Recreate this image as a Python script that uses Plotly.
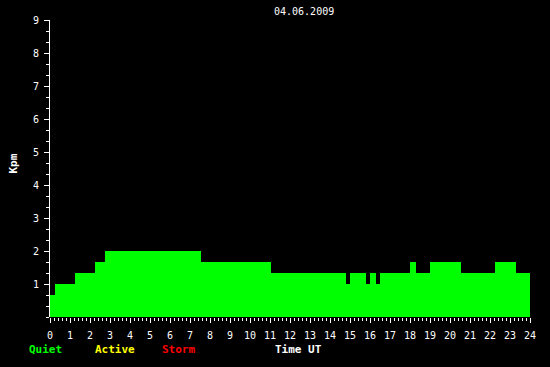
import plotly.graph_objects as go

# Step start times (hours UT) and Kpm values for each step
step_times = [0, 0.25, 1.25, 2.25, 2.75, 7.55, 11.05, 14.8, 15.0, 15.8, 16.0, 16.3, 16.5,
              18.0, 18.3, 19.0, 20.55, 22.25, 23.3, 24.0]
kpm_values = [0.667, 1.0, 1.333, 1.667, 2.0, 1.667, 1.333, 1.0, 1.333, 1.0, 1.333, 1.0, 1.333,
              1.667, 1.333, 1.667, 1.333, 1.667, 1.333, 1.333]

x_ticks = list(range(0, 25))
y_ticks = list(range(0, 10))
date_label = "04.06.2009"
legend_labels = ["Quiet", "Active", "Storm"]
legend_colors = ["#00FF00", "#FFFF00", "#FF0000"]

W, H = 550, 367
L, R, T, B = 50, 20, 20, 50
pw, ph = W - L - R, H - T - B

def px_x(p):
    return (p - L) / pw

def px_y(p):
    return (H - B - p) / ph

fig = go.Figure()
fig.add_trace(go.Scatter(
    x=step_times, y=kpm_values, mode="lines", line=dict(shape="hv", width=0, color="#00FF00"),
    fill="tozeroy", fillcolor="#00FF00", hoverinfo="skip", showlegend=False))

mono = "DejaVu Sans Mono"
fig.update_layout(
    width=W, height=H, margin=dict(l=L, r=R, t=T, b=B),
    paper_bgcolor="black", plot_bgcolor="black", showlegend=False,
    font=dict(family=mono, color="white", size=10),
    xaxis=dict(range=[0, 24], tickvals=x_ticks, ticktext=[str(v) for v in x_ticks],
               showgrid=False, zeroline=False, showline=False,
               ticks="outside", ticklen=5, tickcolor="white", tickwidth=1,
               minor=dict(dtick=0.2, ticks="outside", ticklen=3, tickcolor="white", tickwidth=1, showgrid=False),
               tickfont=dict(family=mono, size=10, color="white"), ticklabelstandoff=4),
    yaxis=dict(range=[0, 9], tickvals=y_ticks[1:], ticktext=[str(v) for v in y_ticks[1:]],
               showgrid=False, zeroline=False, showline=True, linecolor="white", linewidth=1,
               layer="below traces",
               ticks="outside", ticklen=5, tickcolor="white", tickwidth=1,
               minor=dict(dtick=1/3, tick0=0, ticks="outside", ticklen=3, tickcolor="white", tickwidth=1, showgrid=False),
               tickfont=dict(family=mono, size=10, color="white"), ticklabelstandoff=3),
)

ann = []
ann.append(dict(text=date_label, x=px_x(303.5), y=px_y(12), xref="paper", yref="paper",
                showarrow=False, font=dict(family=mono, size=10, color="white"),
                xanchor="center", yanchor="middle"))
ann.append(dict(text="<b>Kpm</b>", x=px_x(12.5), y=px_y(164), xref="paper", yref="paper",
                showarrow=False, textangle=-90, font=dict(family=mono, size=11, color="white"),
                xanchor="center", yanchor="middle"))
for lab, col, cx in zip(legend_labels, legend_colors, [45, 114.5, 178]):
    ann.append(dict(text=f"<b>{lab}</b>", x=px_x(cx), y=px_y(349), xref="paper", yref="paper",
                    showarrow=False, font=dict(family=mono, size=11, color=col),
                    xanchor="center", yanchor="middle"))
ann.append(dict(text="<b>Time UT</b>", x=px_x(298), y=px_y(349), xref="paper", yref="paper",
                showarrow=False, font=dict(family=mono, size=11, color="white"),
                xanchor="center", yanchor="middle"))
fig.update_layout(annotations=ann)

fig.write_html("out.html")
